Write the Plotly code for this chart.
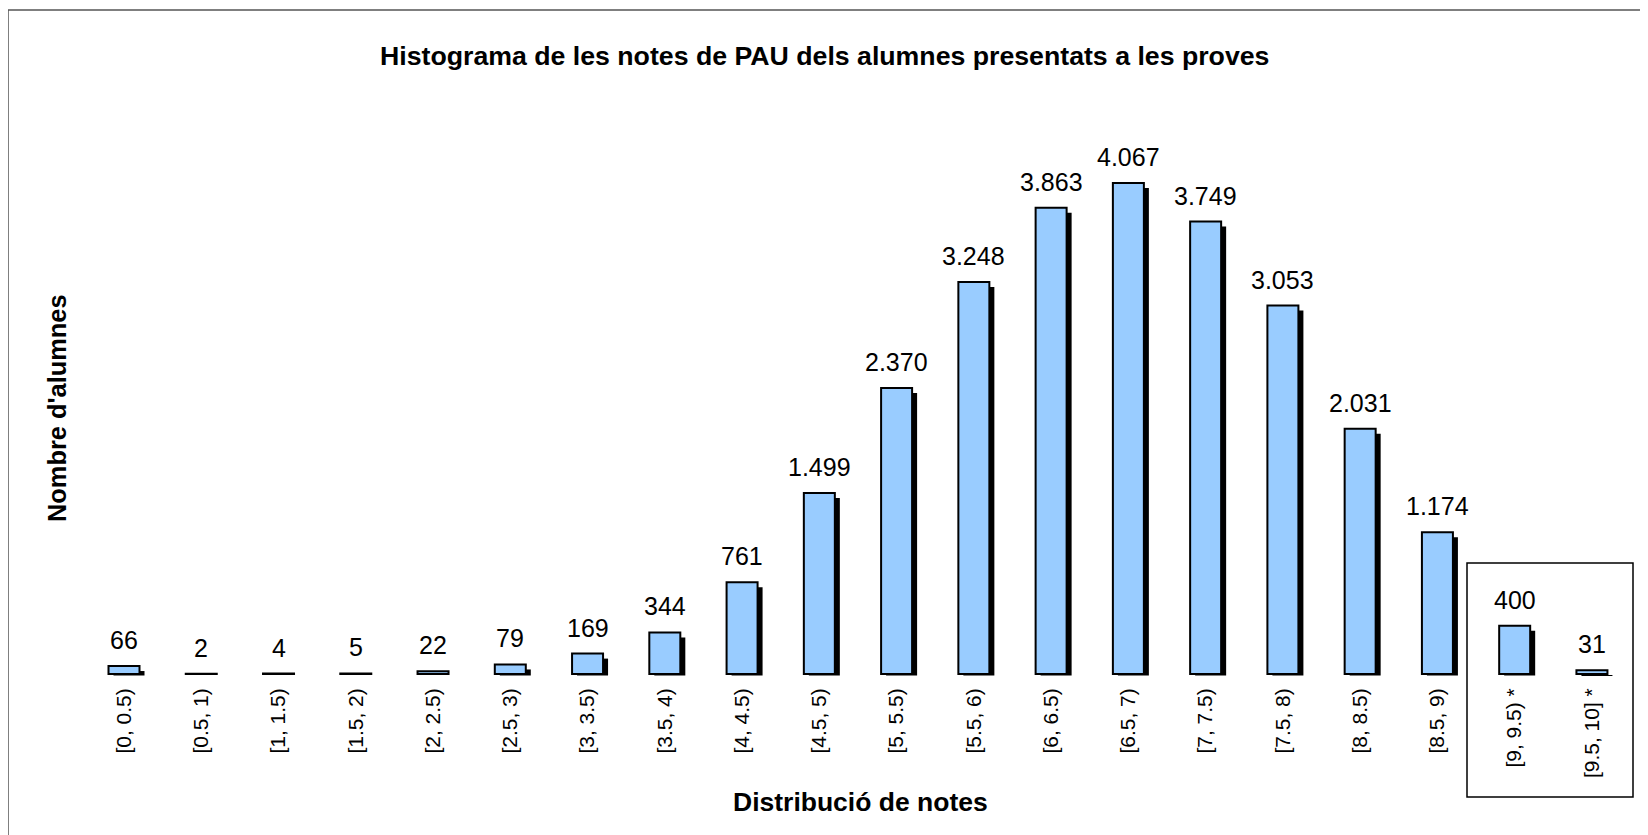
import plotly.graph_objects as go

categories = ["[0, 0.5)", "[0.5, 1)", "[1, 1.5)", "[1.5, 2)", "[2, 2.5)", "[2.5, 3)",
              "[3, 3.5)", "[3.5, 4)", "[4, 4.5)", "[4.5, 5)", "[5, 5.5)", "[5.5, 6)",
              "[6, 6.5)", "[6.5, 7)", "[7, 7.5)", "[7.5, 8)", "[8, 8.5)", "[8.5, 9)",
              "[9, 9.5) *", "[9.5, 10] *"]
counts = [66, 2, 4, 5, 22, 79, 169, 344, 761, 1499, 2370, 3248, 3863, 4067, 3749,
          3053, 2031, 1174, 400, 31]

title = "Histograma de les notes de PAU dels alumnes presentats a les proves"
x_title = "Distribució de notes"
y_title = "Nombre d'alumnes"

FONT = "Arial, Liberation Sans, sans-serif"
W, H = 1648, 835
L, R, T, B = 62, 20, 92, 160
pw, ph = W - L - R, H - T - B
OFF = 8  # page body margin

# pixel geometry of the category axis (page pixels)
X0_PX, STEP_PX = 124 - OFF, 77.26
BASE_PX, PX_PER_UNIT = 674 - OFF, 0.1207
xr = [(L - X0_PX) / STEP_PX, (W - R - X0_PX) / STEP_PX]
yr = [-((H - B) - BASE_PX) / PX_PER_UNIT, (BASE_PX - T) / PX_PER_UNIT]

bar_w = 31 / STEP_PX
sh_dx = 5 / STEP_PX
sh_dy = 5 / PX_PER_UNIT
sh_base = 1.5 / PX_PER_UNIT

xs = list(range(len(categories)))
shadow_len = [max(v - sh_dy + sh_base, 0) for v in counts]

fig = go.Figure()
fig.add_trace(go.Bar(x=xs, y=shadow_len, base=[-sh_base] * len(xs), width=bar_w,
                     offset=-bar_w / 2 + sh_dx, marker=dict(color="black", line=dict(width=0)),
                     hoverinfo="skip", showlegend=False))
fig.add_trace(go.Bar(x=xs, y=counts, width=bar_w, offset=-bar_w / 2,
                     marker=dict(color="#99CCFF", line=dict(color="black", width=2)),
                     showlegend=False))

annotations = []
for x, v in zip(xs, counts):
    annotations.append(dict(x=x, y=v, xref="x", yref="y", text=f"{v:,}".replace(",", "."),
                            showarrow=False, yanchor="bottom", yshift=10,
                            font=dict(size=25, color="black", family=FONT)))


def px2paper_x(p):
    return (p - OFF - L) / pw


def px2paper_y(p):
    return (H - B - (p - OFF)) / ph


annotations.append(dict(x=px2paper_x(860), y=px2paper_y(802), xref="paper", yref="paper",
                        text=f"<b>{x_title}</b>", showarrow=False, xanchor="center", yanchor="middle",
                        font=dict(size=26.5, color="black", family=FONT)))
annotations.append(dict(x=px2paper_x(57), y=px2paper_y(408), xref="paper", yref="paper",
                        text=f"<b>{y_title}</b>", showarrow=False, textangle=-90,
                        xanchor="center", yanchor="middle",
                        font=dict(size=25.4, color="black", family=FONT)))
annotations.append(dict(x=px2paper_x(824), y=px2paper_y(56), xref="paper", yref="paper",
                        text=f"<b>{title}</b>", showarrow=False, xanchor="center", yanchor="middle",
                        font=dict(size=26.7, color="black", family=FONT)))

shapes = [
    dict(type="rect", xref="paper", yref="paper",
         x0=px2paper_x(8), x1=px2paper_x(1720), y0=px2paper_y(920), y1=px2paper_y(10),
         line=dict(color="#555555", width=1.5)),
    dict(type="rect", xref="paper", yref="paper",
         x0=px2paper_x(1467), x1=px2paper_x(1633), y0=px2paper_y(797), y1=px2paper_y(563),
         line=dict(color="black", width=1.5)),
]

fig.update_layout(
    width=W, height=H, autosize=False,
    margin=dict(l=L, r=R, t=T, b=B),
    paper_bgcolor="white", plot_bgcolor="white",
    barmode="overlay",
    font=dict(family=FONT, color="black"),
    annotations=annotations, shapes=shapes,
    xaxis=dict(range=xr, tickmode="array", tickvals=xs, ticktext=categories,
               tickangle=-90, tickfont=dict(size=21, color="black", family=FONT),
               showgrid=False, zeroline=False, showline=False, ticks=""),
    yaxis=dict(range=yr, showticklabels=False, showgrid=False, zeroline=False,
               showline=False, ticks=""),
)

fig.write_html("out.html")
